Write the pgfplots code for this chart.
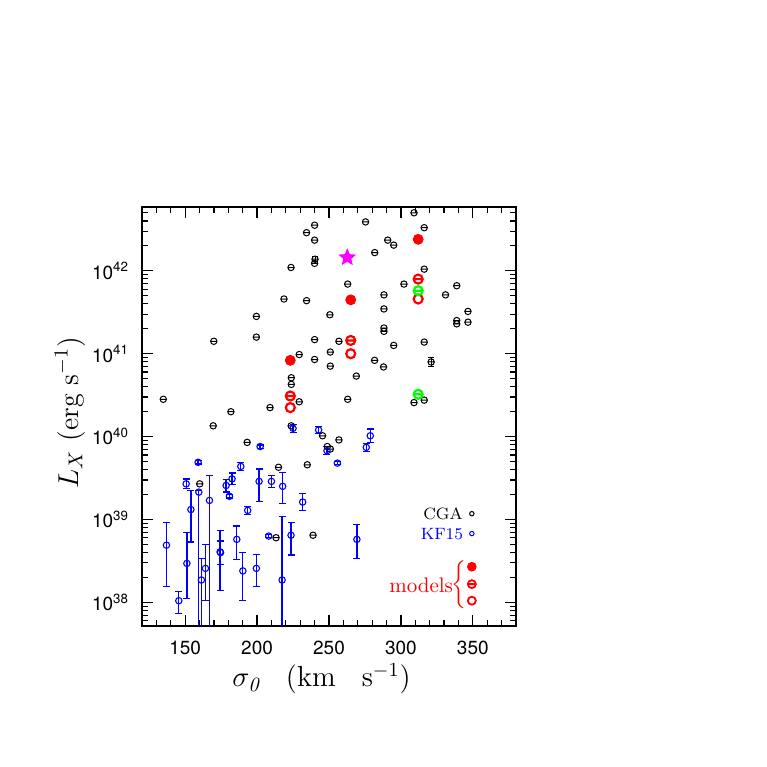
\documentclass[border=0pt]{standalone}
\usepackage{pgfplots}
\usepackage{pgfplotstable}
\pgfplotsset{compat=1.18}
\usepackage{fontspec}
\newfontfamily\heros{TeX Gyre Heros}
\definecolor{starmag}{RGB}{255,0,255}
\definecolor{brightgreen}{RGB}{0,255,0}

% circle with a bar through it
\pgfdeclareplotmark{theta}{%
  \pgfpathcircle{\pgfpoint{0pt}{0pt}}{\pgfplotmarksize}%
  \pgfpathmoveto{\pgfpoint{-\pgfplotmarksize}{0pt}}%
  \pgfpathlineto{\pgfpoint{\pgfplotmarksize}{0pt}}%
  \pgfusepathqstroke}
% filled five point star
\pgfdeclareplotmark{fstar}{%
  \pgfpathmoveto{\pgfpointpolar{90}{\pgfplotmarksize}}%
  \pgfpathlineto{\pgfpointpolar{126}{0.45\pgfplotmarksize}}%
  \pgfpathlineto{\pgfpointpolar{162}{\pgfplotmarksize}}%
  \pgfpathlineto{\pgfpointpolar{198}{0.45\pgfplotmarksize}}%
  \pgfpathlineto{\pgfpointpolar{234}{\pgfplotmarksize}}%
  \pgfpathlineto{\pgfpointpolar{270}{0.45\pgfplotmarksize}}%
  \pgfpathlineto{\pgfpointpolar{306}{\pgfplotmarksize}}%
  \pgfpathlineto{\pgfpointpolar{342}{0.45\pgfplotmarksize}}%
  \pgfpathlineto{\pgfpointpolar{18}{\pgfplotmarksize}}%
  \pgfpathlineto{\pgfpointpolar{54}{0.45\pgfplotmarksize}}%
  \pgfpathclose\pgfusepathqfillstroke}

% CGA sample: sigma0, log L_X
\pgfplotstableread{
s L
134.8 40.45
169.9 41.15
199.5 41.45
199.5 41.20
181.8 40.30
169.5 40.13
160.1 39.43
193.1 39.93
209.0 40.35
213.2 38.78
238.9 38.81
223.7 40.13
229.3 40.42
223.8 40.71
223.8 40.63
229.3 40.99
223.6 42.04
218.7 41.66
234.4 41.64
234.4 42.46
240.0 42.55
240.0 42.37
240.0 42.09
240.0 41.17
240.0 40.93
250.6 41.47
250.9 41.02
250.9 40.85
245.5 40.01
248.8 39.88
250.9 39.85
256.9 39.96
256.9 41.15
263.0 41.84
263.0 40.45
269.0 40.73
275.4 42.59
281.8 42.22
288.2 41.71
288.2 41.54
288.2 41.31
288.2 41.27
287.9 40.84
281.7 40.92
290.8 42.37
295.0 42.31
295.0 41.10
302.1 41.84
309.1 42.70
316.2 42.52
316.2 42.02
316.2 41.14
309.1 40.41
316.2 40.44
331.0 41.71
338.8 41.82
346.6 41.51
346.6 41.38
338.8 41.40
338.8 41.36
234.9 39.66
214.9 39.63
}\cga

% KF15 sample: sigma0, log L_X, upper and lower error (dex)
\pgfplotstableread{
s L ep em
150.7 39.43 0.06 0.06
159.0 39.69 0.02 0.02
159.5 39.33 0.02 3
154.0 39.12 0.23 0.39
166.9 39.23 0.30 3
178.5 39.41 0.07 0.08
180.8 39.28 0.02 0.02
182.6 39.49 0.07 0.07
188.7 39.64 0.045 0.045
201.4 39.46 0.15 0.24
193.5 39.11 0.05 0.05
208.1 38.80 0.02 0.02
137.0 38.69 0.27 0.50
145.6 38.02 0.11 0.15
151.2 38.47 0.37 0.42
161.3 38.27 0.26 3
164.1 38.41 0.29 0.39
174.3 38.61 0.26 0.47
174.6 38.60 0.14 0.14
185.9 38.76 0.16 0.24
190.1 38.38 0.22 0.36
199.5 38.41 0.17 0.22
202.1 39.88 0.02 0.02
225.0 40.10 0.05 0.05
242.8 40.08 0.04 0.04
248.6 39.83 0.05 0.05
255.8 39.68 0.02 0.02
275.9 39.87 0.05 0.05
278.7 40.01 0.08 0.08
210.0 39.46 0.07 0.07
217.8 39.40 0.17 0.21
231.7 39.21 0.10 0.10
223.6 38.81 0.15 0.24
269.4 38.76 0.18 0.23
217.4 38.27 0.77 3
}\kf

\begin{document}
\begin{tikzpicture}
\begin{axis}[
  at={(0pt,0pt)}, anchor=south west,
  scale only axis, width=187pt, height=209.5pt,
  xmin=120, xmax=380, ymin=37.715, ymax=42.77,
  xtick={150,200,250,300,350},
  xticklabels={150,200,250,300,350},
  minor xtick={130,140,...,370},
  ytick={38,39,40,41,42},
  yticklabels={10\textsuperscript{38},10\textsuperscript{39},10\textsuperscript{40},10\textsuperscript{41},10\textsuperscript{42}},
  minor ytick={37.77815,37.84510,37.90309,37.95424,
    38.30103,38.47712,38.60206,38.69897,38.77815,38.84510,38.90309,38.95424,
    39.30103,39.47712,39.60206,39.69897,39.77815,39.84510,39.90309,39.95424,
    40.30103,40.47712,40.60206,40.69897,40.77815,40.84510,40.90309,40.95424,
    41.30103,41.47712,41.60206,41.69897,41.77815,41.84510,41.90309,41.95424,
    42.30103,42.47712,42.60206,42.69897},
  tick align=inside, xtick pos=both, ytick pos=both,
  major tick length=5.5pt, minor tick length=2.8pt,
  every tick/.style={black, line width=0.6pt},
  axis line style={line width=0.8pt},
  ticklabel style={font=\heros\fontsize{9.5}{11}\selectfont},
  xticklabel style={inner sep=0pt, yshift=-7.2pt},
  yticklabel style={xshift=-3pt},
  xlabel={$\sigma_{\mathit{0}}$\hspace{0.9em}(km\hspace{0.9em}s$^{-1}$)},
  xlabel style={font=\fontsize{14.5}{16}\selectfont, inner sep=0pt,
    at={(axis description cs:0.48,-0.126)}, anchor=center},
]
% CGA
\addplot[only marks, black, mark=theta, mark size=1.6pt, line width=0.5pt]
  table[x=s, y=L]{\cga};
\addplot[only marks, black, mark=theta, mark size=1.6pt, line width=0.5pt,
  error bars/.cd, y dir=both, y explicit,
  error bar style={line width=0.5pt, black},
  error mark options={rotate=90, mark size=1.6pt, line width=0.5pt, black}]
  coordinates {(321.0,40.90) +- (0,0.05) (240.3,42.14) +- (0,0.03)};
% KF15
\addplot[only marks, blue, mark=o, mark size=1.6pt, line width=0.55pt,
  error bars/.cd, y dir=both, y explicit,
  error bar style={line width=0.65pt, blue},
  error mark options={rotate=90, mark size=1.75pt, line width=0.65pt, blue}]
  table[x=s, y=L, y error plus=ep, y error minus=em]{\kf};
% models
\addplot[only marks, red, mark=*, mark size=2.5pt]
  coordinates {(223.1,40.92) (265.1,41.65) (312.0,42.38)};
\addplot[only marks, red, mark=theta, mark size=2.25pt, line width=1.1pt]
  coordinates {(223.1,40.49) (265.1,41.16) (312.0,41.90)};
\addplot[only marks, red, mark=o, mark size=2.25pt, line width=1.1pt]
  coordinates {(223.1,40.35) (265.1,41.00) (312.0,41.66)};
\addplot[only marks, brightgreen, mark=theta, mark size=2.25pt, line width=1.1pt]
  coordinates {(312.0,41.76) (312.0,40.51)};
\addplot[only marks, starmag, mark=fstar, mark size=4pt, line width=0.5pt]
  coordinates {(262.7,42.16)};
% key
\addplot[only marks, black, mark=o, mark size=1.1pt, line width=0.5pt]
  coordinates {(349.3,39.07)};
\addplot[only marks, blue, mark=o, mark size=1.1pt, line width=0.5pt]
  coordinates {(349.3,38.83)};
\addplot[only marks, red, mark=*, mark size=2.2pt]
  coordinates {(349.3,38.43)};
\addplot[only marks, red, mark=theta, mark size=2pt, line width=0.9pt]
  coordinates {(349.3,38.22)};
\addplot[only marks, red, mark=o, mark size=2pt, line width=0.9pt]
  coordinates {(349.3,38.02)};
\node[anchor=east, inner sep=0pt, font=\fontsize{8.2}{10}\selectfont] at (axis cs:343.2,39.07) {CGA};
\node[anchor=east, inner sep=0pt, blue, font=\fontsize{8.2}{10}\selectfont] at (axis cs:343.5,38.83) {KF15};
\node[anchor=east, inner sep=0pt, red, font=\fontsize{10.5}{12}\selectfont] at (axis cs:336.5,38.20) {models};
\node[inner sep=0pt, red] at (axis cs:341.2,38.21) {$\left\{\vcenter{\hbox{\rule{0pt}{21pt}}}\right.$};
\end{axis}
% y axis title
\node[rotate=90, anchor=center, inner sep=0pt, font=\fontsize{14}{16}\selectfont] at (-36pt,106.5pt)
  {$L_{X}$ (erg s$^{-1}$)};
\pgfresetboundingbox
\path[use as bounding box] (-71pt,-70.5pt) rectangle (312.5pt,313pt);
\end{tikzpicture}
\end{document}
